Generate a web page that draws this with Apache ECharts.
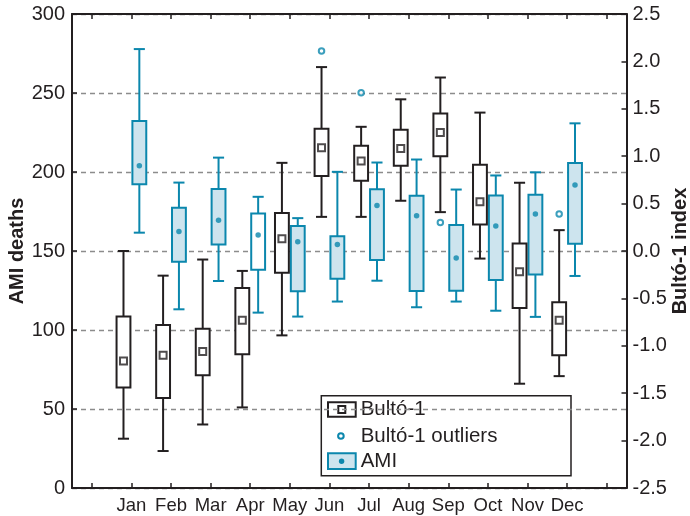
<!DOCTYPE html>
<html><head><meta charset="utf-8">
<script src="https://cdn.jsdelivr.net/npm/echarts@6/dist/echarts.min.js"></script>
<style>html,body{margin:0;padding:0;background:#fff}#c{width:690px;height:516px}</style>
</head><body><div id="c"></div>
<script>
// ---------- data ----------
const months = ['Jan','Feb','Mar','Apr','May','Jun','Jul','Aug','Sep','Oct','Nov','Dec'];

// Bultó-1 index (right axis)
const bultoLow  = [-1.98,-2.11,-1.83,-1.65,-0.89, 0.36, 0.36, 0.53, 0.41,-0.08,-1.40,-1.32];
const bultoQ1   = [-1.44,-1.55,-1.31,-1.09,-0.23, 0.79, 0.74, 0.90, 1.00, 0.28,-0.60,-1.10];
const bultoMean = [-1.16,-1.10,-1.06,-0.73, 0.13, 1.09, 0.95, 1.08, 1.25, 0.52,-0.22,-0.73];
const bultoQ3   = [-0.69,-0.78,-0.82,-0.39, 0.40, 1.29, 1.11, 1.28, 1.45, 0.91, 0.08,-0.54];
const bultoHigh = [ 0.00,-0.26,-0.09,-0.21, 0.93, 1.94, 1.31, 1.60, 1.83, 1.46, 0.72, 0.22];
// outliers: month name and value
const outlierMonths = ['Jun','Jul','Sep','Dec'];
const outlierValues = [2.11, 1.67, 0.30, 0.39];

// AMI deaths (left axis)
const amiLow  = [161.6,113.1,131.0,111.0,108.5,118.0,131.2,114.4,118.0,112.2,108.3,134.2];
const amiQ1   = [192.3,143.2,154.1,138.2,124.5,132.4,144.3,124.7,124.9,131.6,135.2,154.6];
const amiMean = [203.9,162.4,169.5,160.1,155.9,154.1,178.8,172.3,145.5,165.8,173.4,191.8];
const amiQ3   = [232.3,177.3,189.3,173.8,165.8,159.4,189.1,185.0,166.4,185.2,185.6,205.7];
const amiHigh = [277.8,193.3,209.1,184.3,170.8,200.1,206.0,207.9,188.9,197.8,199.8,230.8];

const leftTicks  = [0, 50, 100, 150, 200, 250, 300];
const rightTicks = [-2.5,-2.0,-1.5,-1.0,-0.5,0.0,0.5,1.0,1.5,2.0,2.5];

// ---------- style ----------
const BLACK = '#231f20';
const TEAL = '#0b87ad';
const LIGHT = '#cde4ee';
const GRID = '#8c8c8c';
const FONT = 'Liberation Sans, Arial, sans-serif';
const FS = 20;
const LFS = 20.5;
const OFF = 0.2;            // side offset of the two boxes in a month
const UNFILLED_AMI = 'Apr'; // AMI box drawn without fill

const tickPos = [];
for (let i = 0; i <= months.length + 1; i++) tickPos.push(i);
const labelPos = months.map((m, i) => i + 1);

function boxRender(stroke, fillOf) {
  return function (params, api) {
    const x = api.value(0);
    const low = api.coord([x, api.value(1)]);
    const q1 = api.coord([x, api.value(2)]);
    const q3 = api.coord([x, api.value(3)]);
    const high = api.coord([x, api.value(4)]);
    const bw = api.size([0.35, 0])[0];
    const cw = api.size([0.28, 0])[0];
    const cx = low[0];
    const ls = { stroke: stroke, lineWidth: 2 };
    return {
      type: 'group',
      children: [
        { type: 'line', shape: { x1: cx, y1: high[1], x2: cx, y2: q3[1] }, style: ls },
        { type: 'line', shape: { x1: cx, y1: q1[1], x2: cx, y2: low[1] }, style: ls },
        { type: 'line', shape: { x1: cx - cw / 2, y1: high[1], x2: cx + cw / 2, y2: high[1] }, style: ls },
        { type: 'line', shape: { x1: cx - cw / 2, y1: low[1], x2: cx + cw / 2, y2: low[1] }, style: ls },
        { type: 'rect', shape: { x: cx - bw / 2, y: q3[1], width: bw, height: q1[1] - q3[1] },
          style: { fill: fillOf(params.dataIndex), stroke: stroke, lineWidth: 2 } }
      ]
    };
  };
}

const bultoBoxData = months.map((m, i) => [i + 1 - OFF, bultoLow[i], bultoQ1[i], bultoQ3[i], bultoHigh[i]]);
const amiBoxData = months.map((m, i) => [i + 1 + OFF, amiLow[i], amiQ1[i], amiQ3[i], amiHigh[i]]);
const bultoMeanData = months.map((m, i) => [i + 1 - OFF, bultoMean[i]]);
const amiMeanData = months.map((m, i) => [i + 1 + OFF, amiMean[i]]);
const outlierData = outlierMonths.map((m, k) => [months.indexOf(m) + 1 - OFF, outlierValues[k]]);

function xAxisOf(pos, showLabels) {
  return {
    type: 'value', min: -0.5, max: months.length + 1.5, position: pos,
    axisLine: { show: true, onZero: false, lineStyle: { color: BLACK, width: 2 } },
    axisTick: { show: true, inside: true, length: 5, customValues: tickPos, lineStyle: { color: BLACK, width: 1.5 } },
    axisLabel: showLabels
      ? { show: true, customValues: labelPos, margin: 8, color: BLACK, fontFamily: FONT, fontSize: 18.5,
          formatter: v => months[Math.round(v) - 1] || '' }
      : { show: false },
    splitLine: { show: false }
  };
}

const option = {
  animation: false,
  backgroundColor: '#fff',
  grid: { left: 72, right: 63.5, top: 14, bottom: 28, outerBoundsMode: 'none' },
  xAxis: [xAxisOf('bottom', true), xAxisOf('top', false)],
  yAxis: [
    {
      type: 'value', position: 'left', min: leftTicks[0], max: leftTicks[leftTicks.length - 1], interval: 50,
      name: 'AMI deaths', nameLocation: 'middle', nameRotate: 90, nameGap: 45, nameMoveOverlap: false,
      nameTextStyle: { fontFamily: FONT, fontSize: FS, fontWeight: 'bold', color: BLACK },
      axisLine: { show: true, onZero: false, lineStyle: { color: BLACK, width: 2 } },
      axisTick: { show: true, inside: true, length: 5, lineStyle: { color: BLACK, width: 1.5 } },
      axisLabel: { margin: 7, color: BLACK, fontFamily: FONT, fontSize: FS },
      splitLine: { show: true, lineStyle: { color: GRID, type: [5, 4], width: 1.3 } }
    },
    {
      type: 'value', position: 'right', min: rightTicks[0], max: rightTicks[rightTicks.length - 1], interval: 0.5,
      name: 'Bultó-1 index', nameLocation: 'middle', nameRotate: 90, nameGap: 44, nameMoveOverlap: false,
      nameTextStyle: { fontFamily: FONT, fontSize: FS, fontWeight: 'bold', color: BLACK },
      axisLine: { show: true, onZero: false, lineStyle: { color: BLACK, width: 2 } },
      axisTick: { show: true, inside: true, length: 5, lineStyle: { color: BLACK, width: 1.5 } },
      axisLabel: { margin: 6, color: BLACK, fontFamily: FONT, fontSize: FS, formatter: v => v.toFixed(1) },
      splitLine: { show: false }
    }
  ],
  series: [
    {
      name: 'AMI', type: 'custom', xAxisIndex: 0, yAxisIndex: 0, z: 2,
      renderItem: boxRender(TEAL, i => months[i] === UNFILLED_AMI ? '#fff' : LIGHT),
      encode: { x: 0, y: [1, 2, 3, 4] },
      data: amiBoxData
    },
    {
      name: 'Bultó-1', type: 'custom', xAxisIndex: 0, yAxisIndex: 1, z: 2,
      renderItem: boxRender(BLACK, () => '#fff'),
      encode: { x: 0, y: [1, 2, 3, 4] },
      data: bultoBoxData
    },
    {
      name: 'AMI mean', type: 'scatter', xAxisIndex: 0, yAxisIndex: 0, z: 3,
      symbol: 'circle', symbolSize: 5.5, itemStyle: { color: TEAL, borderWidth: 0 },
      data: amiMeanData
    },
    {
      name: 'Bultó-1 mean', type: 'scatter', xAxisIndex: 0, yAxisIndex: 1, z: 3,
      symbol: 'rect', symbolSize: 7, itemStyle: { color: '#fff', borderColor: BLACK, borderWidth: 2 },
      data: bultoMeanData
    },
    {
      name: 'Bultó-1 outliers', type: 'scatter', xAxisIndex: 0, yAxisIndex: 1, z: 3,
      symbol: 'circle', symbolSize: 5.5, itemStyle: { color: '#fff', borderColor: TEAL, borderWidth: 2 },
      data: outlierData
    }
  ],
  graphic: [{
    type: 'group', x: 321.3, y: 395.7, z: 100,
    children: [
      { type: 'rect', shape: { x: 0, y: 0, width: 249.7, height: 80 }, style: { fill: '#fff', stroke: BLACK, lineWidth: 1.5 } },
      { type: 'rect', shape: { x: 6.7, y: 6.6, width: 27.7, height: 14.4 }, style: { fill: '#fff', stroke: BLACK, lineWidth: 2 } },
      { type: 'rect', shape: { x: 17, y: 10.3, width: 7, height: 7 }, style: { fill: '#fff', stroke: BLACK, lineWidth: 2 } },
      { type: 'circle', shape: { cx: 19.6, cy: 40.3, r: 2.8 }, style: { fill: '#fff', stroke: TEAL, lineWidth: 2 } },
      { type: 'rect', shape: { x: 6.7, y: 57.6, width: 27.7, height: 15.7 }, style: { fill: LIGHT, stroke: TEAL, lineWidth: 2 } },
      { type: 'circle', shape: { cx: 20.3, cy: 65.6, r: 2.7 }, style: { fill: TEAL } },
      { type: 'text', x: 39.4, y: 14, style: { text: 'Bultó-1', fill: BLACK, font: LFS + 'px ' + FONT, verticalAlign: 'middle' } },
      { type: 'text', x: 39.4, y: 40.5, style: { text: 'Bultó-1 outliers', fill: BLACK, font: LFS + 'px ' + FONT, verticalAlign: 'middle' } },
      { type: 'text', x: 39.4, y: 66, style: { text: 'AMI', fill: BLACK, font: LFS + 'px ' + FONT, verticalAlign: 'middle' } }
    ]
  }]
};

const chart = echarts.init(document.getElementById('c'), null, { renderer: 'canvas' });
chart.setOption(option);
</script>
</body></html>
